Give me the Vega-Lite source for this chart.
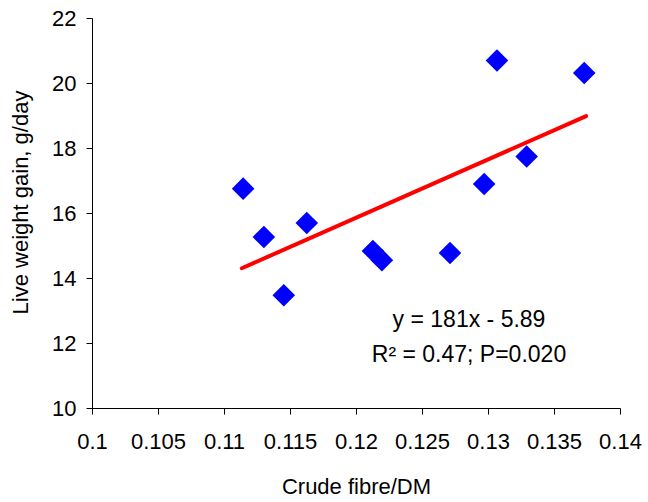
{
  "$schema": "https://vega.github.io/schema/vega-lite/v6.json",
  "width": 528,
  "height": 390,
  "autosize": {"type": "none"},
  "padding": {"left": 92, "top": 18, "right": 28, "bottom": 94},
  "background": "white",
  "config": {
    "view": {"stroke": null},
    "font": "Liberation Sans",
    "axis": {
      "domainColor": "#000000",
      "tickColor": "#000000",
      "labelColor": "#000000",
      "titleColor": "#000000",
      "labelFont": "Liberation Sans",
      "titleFont": "Liberation Sans",
      "labelFontSize": 22,
      "titleFontSize": 22,
      "titleFontWeight": "normal",
      "tickSize": 6,
      "grid": false
    }
  },
  "datasets": {
    "points": [
      {"fibre": 0.11145, "gain": 16.75},
      {"fibre": 0.11302, "gain": 15.26},
      {"fibre": 0.11453, "gain": 13.47},
      {"fibre": 0.11627, "gain": 15.69},
      {"fibre": 0.12128, "gain": 14.83},
      {"fibre": 0.12196, "gain": 14.55},
      {"fibre": 0.12712, "gain": 14.77},
      {"fibre": 0.12971, "gain": 16.89},
      {"fibre": 0.13068, "gain": 20.69},
      {"fibre": 0.13293, "gain": 17.74},
      {"fibre": 0.13729, "gain": 20.31}
    ],
    "fit": [
      {"fibre": 0.11135, "gain": 14.3},
      {"fibre": 0.13743, "gain": 18.98}
    ],
    "labels": [
      {"fibre": 0.12856, "gain": 12.48, "text": "y = 181x - 5.89"},
      {"fibre": 0.12856, "gain": 11.42, "text": "R² = 0.47; P=0.020"}
    ]
  },
  "layer": [
    {
      "data": {"name": "fit"},
      "mark": {"type": "line", "color": "#FF0000", "strokeWidth": 4, "strokeCap": "round"},
      "encoding": {
        "x": {
          "field": "fibre", "type": "quantitative",
          "scale": {"domain": [0.1, 0.14], "nice": false, "zero": false},
          "axis": {
            "title": "Crude fibre/DM",
            "values": [0.1, 0.105, 0.11, 0.115, 0.12, 0.125, 0.13, 0.135, 0.14],
            "format": "~g",
            "labelPadding": 17.5,
            "labelFlush": false,
            "labelOverlap": false,
            "titleY": 85.5,
            "titleBaseline": "alphabetic"
          }
        },
        "y": {
          "field": "gain", "type": "quantitative",
          "scale": {"domain": [10, 22], "nice": false, "zero": false},
          "axis": {
            "title": "Live weight gain, g/day",
            "values": [10, 12, 14, 16, 18, 20, 22],
            "labelPadding": 10,
            "labelFlush": false,
            "titleX": -65,
            "titleY": 184,
            "titleAngle": 270,
            "titleBaseline": "alphabetic"
          }
        }
      }
    },
    {
      "data": {"name": "points"},
      "mark": {"type": "point", "shape": "diamond", "filled": true, "color": "#0000FF", "size": 510, "opacity": 1},
      "encoding": {
        "x": {"field": "fibre", "type": "quantitative"},
        "y": {"field": "gain", "type": "quantitative"}
      }
    },
    {
      "data": {"name": "labels"},
      "mark": {"type": "text", "font": "Liberation Sans", "fontSize": 23, "color": "#000000", "align": "center", "baseline": "alphabetic"},
      "encoding": {
        "x": {"field": "fibre", "type": "quantitative"},
        "y": {"field": "gain", "type": "quantitative"},
        "text": {"field": "text"}
      }
    }
  ]
}
